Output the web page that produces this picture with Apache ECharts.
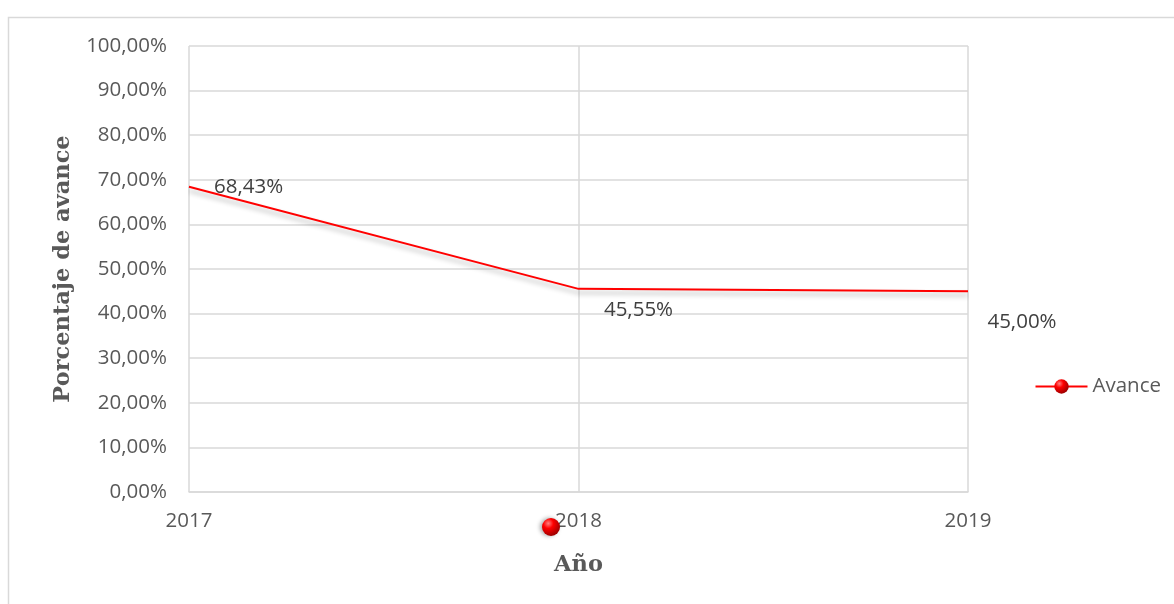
<!DOCTYPE html>
<html>
<head>
<meta charset="utf-8">
<script src="https://cdn.jsdelivr.net/npm/echarts@6/dist/echarts.min.js"></script>
<style>
  html, body { margin: 0; padding: 0; background: #fff; }
  #main { width: 1174px; height: 604px; }
</style>
</head>
<body>
<div id="main"></div>
<script>
var years = ['2017', '2018', '2019'];
var avance = [68.43, 45.55, 45.00];
var seriesName = 'Avance';

var sphere = new echarts.graphic.RadialGradient(0.35, 0.3, 0.7, [
  { offset: 0, color: '#ff8080' },
  { offset: 0.4, color: '#ff0000' },
  { offset: 1, color: '#a00000' }
]);

function pct(v) {
  return v.toFixed(2).replace('.', ',') + '%';
}

// label placement per point, like the excel chart
var labelPos = [
  { position: 'right', offset: [20, 0] },
  { position: 'bottom', offset: [60, 6] },
  { position: 'bottom', offset: [54, 15] }
];

var option = {
  animation: false,
  backgroundColor: '#fff',
  grid: { left: 189, right: 206, top: 46, bottom: 112 },
  xAxis: {
    type: 'category',
    data: years,
    boundaryGap: false,
    name: 'Año',
    nameLocation: 'middle',
    nameGap: 62,
    nameTextStyle: { fontFamily: 'DejaVu Serif', fontWeight: 'bold', fontSize: 22.5, color: '#595959' },
    axisLine: { lineStyle: { color: '#d9d9d9', width: 1.5 } },
    axisTick: { show: false },
    axisLabel: { fontFamily: 'Open Sans', fontSize: 20.5, color: '#595959', margin: 19 },
    splitLine: { show: true, lineStyle: { color: '#d9d9d9', width: 1.5 } }
  },
  yAxis: {
    type: 'value',
    min: 0,
    max: 100,
    interval: 10,
    name: 'Porcentaje de avance',
    nameLocation: 'middle',
    nameGap: 114,
    nameTextStyle: { fontFamily: 'DejaVu Serif', fontWeight: 'bold', fontSize: 22.5, color: '#595959' },
    axisLine: { show: false },
    axisTick: { show: false },
    axisLabel: {
      fontFamily: 'Open Sans', fontSize: 20.5, color: '#595959', margin: 22,
      formatter: function (v) { return pct(v); }
    },
    splitLine: { lineStyle: { color: '#d9d9d9', width: 1.5 } }
  },
  legend: {
    right: 8,
    top: 371,
    orient: 'vertical',
    itemWidth: 52,
    itemHeight: 18,
    itemGap: 6,
    textStyle: { fontFamily: 'Open Sans', fontSize: 20.5, color: '#595959' },
    data: [seriesName]
  },
  series: [{
    name: seriesName,
    type: 'line',
    data: avance.map(function (v, i) {
      return {
        value: v,
        symbolSize: 0,
        label: Object.assign({}, labelPos[i])
      };
    }),
    showSymbol: true,
    symbol: 'circle',
    symbolSize: 18,
    itemStyle: { color: sphere },
    lineStyle: {
      color: '#ff0000',
      width: 2,
      shadowColor: 'rgba(0,0,0,0.3)',
      shadowBlur: 5,
      shadowOffsetY: 4
    },
    label: {
      show: true,
      fontFamily: 'Open Sans',
      fontSize: 20.5,
      color: '#404040',
      formatter: function (p) { return pct(p.value); }
    }
  }],
  graphic: [
    {
      type: 'rect',
      shape: { x: 8.5, y: 17.5, width: 1180, height: 600 },
      style: { fill: null, stroke: '#d9d9d9', lineWidth: 1.5 },
      z: -10
    },
    {
      type: 'circle',
      shape: { cx: 551, cy: 527, r: 9 },
      style: {
        fill: sphere,
        shadowColor: 'rgba(0,0,0,0.35)',
        shadowBlur: 4,
        shadowOffsetX: -2
      },
      z: 10
    }
  ]
};

var myChart = echarts.init(document.getElementById('main'));
myChart.setOption(option);
</script>
</body>
</html>
